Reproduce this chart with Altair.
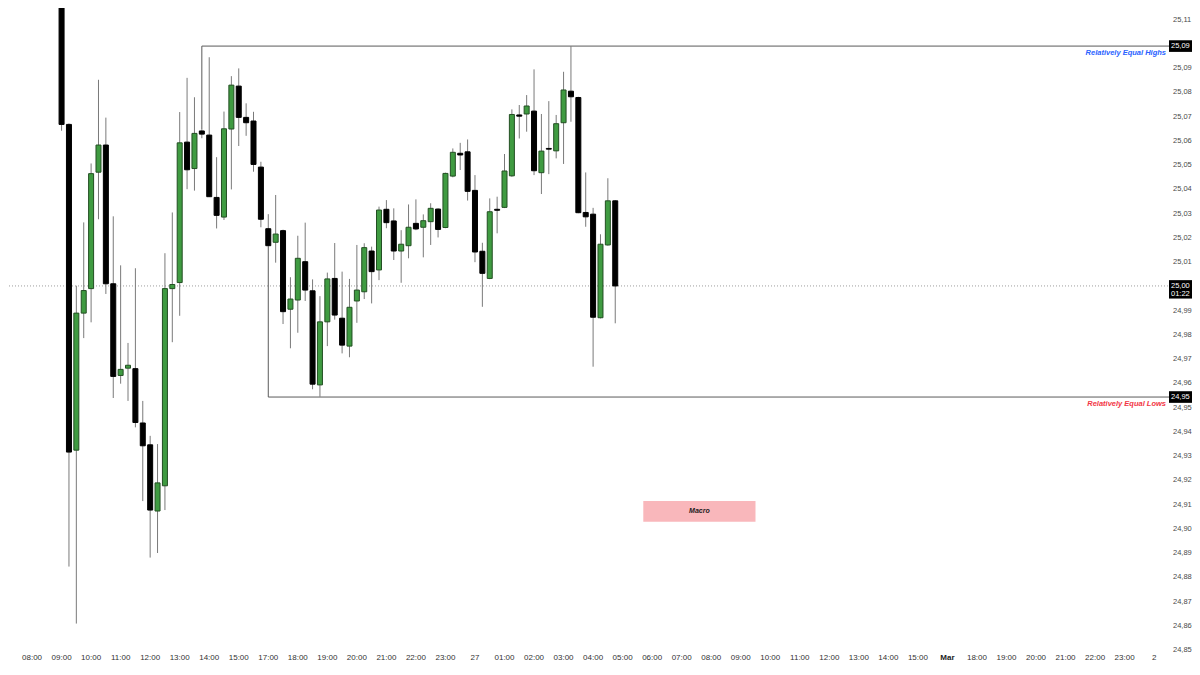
import altair as alt
import pandas as pd

# ---- 15-minute candles (bar index: 0 = 07:00 on the 26th, 4 bars per hour) ----
bars = list(range(8, 84))
opens = [25130.0, 25066.8, 24932.5, 24989.0, 24999.1, 25047.1, 25058.3, 25001.1, 24963.3, 24966.3,
         24966.1, 24943.7, 24934.7, 24907.4, 24917.8, 24999.1, 25001.6, 25059.5, 25048.6, 25064.1,
         25062.4, 25036.7, 25028.6, 25064.9, 25082.6, 25069.7, 25068.2, 25049.2, 25023.8, 25018.2,
         25023.0, 24990.6, 24994.4, 25010.2, 24998.2, 24959.4, 24985.4, 25003.3, 24986.9, 24975.4,
         24994.0, 24997.8, 25014.6, 25006.8, 25031.8, 25027.0, 25014.6, 25016.8, 25026.0, 25024.4,
         25026.7, 25031.9, 25024.3, 25045.5, 25054.9, 25055.5, 25039.6, 25014.5, 25003.3, 25031.8,
         25032.6, 25045.6, 25070.7, 25071.1, 25072.3, 25046.9, 25056.9, 25055.9, 25067.5, 25080.5,
         25077.9, 25030.5, 25029.8, 24987.1, 25017.1, 25035.3]
highs = [25138.0, 25067.2, 25000.3, 25026.4, 25050.7, 25085.2, 25069.6, 25028.9, 25008.7, 24976.7,
         25007.5, 24952.8, 24938.4, 24935.0, 25013.7, 25030.5, 25071.9, 25086.0, 25078.0, 25064.8,
         25094.5, 25053.3, 25072.1, 25086.7, 25089.9, 25075.5, 25072.0, 25051.4, 25029.8, 25037.7,
         25023.4, 25003.8, 25020.9, 25026.3, 25002.9, 24996.0, 25005.7, 25017.9, 25006.1, 25003.1,
         25017.1, 25017.8, 25016.4, 25032.9, 25035.6, 25032.2, 25023.2, 25033.8, 25035.9, 25029.7,
         25034.3, 25032.2, 25046.9, 25056.9, 25059.2, 25060.6, 25045.9, 25018.0, 25036.3, 25037.0,
         25054.6, 25073.0, 25074.8, 25078.9, 25089.5, 25071.1, 25076.4, 25070.7, 25088.5, 25099.1,
         25078.2, 25047.0, 25032.4, 25021.5, 25044.6, 25035.6]
lows = [25064.2, 24884.5, 24861.0, 24978.7, 24985.2, 25027.7, 24996.9, 24954.0, 24959.9, 24952.8,
        24941.9, 24911.5, 24888.2, 24890.1, 24907.8, 24977.0, 24987.9, 25040.1, 25039.5, 25061.1,
        25036.9, 25023.9, 25027.4, 25040.0, 25057.9, 25062.1, 25047.3, 25024.4, 25016.6, 25009.8,
        24984.5, 24974.5, 24980.9, 24994.0, 24957.6, 24954.5, 24975.4, 24986.3, 24972.4, 24970.8,
        24985.0, 24994.8, 24993.0, 25002.6, 25024.0, 25010.9, 25001.5, 25011.6, 25023.2, 25012.0,
        25017.1, 25020.2, 25024.0, 25045.0, 25048.0, 25035.4, 25010.0, 24991.6, 25003.0, 25021.9,
        25032.3, 25045.2, 25061.0, 25063.8, 25045.9, 25038.1, 25046.3, 25052.8, 25050.5, 25067.9,
        25030.2, 25024.6, 24966.9, 24986.8, 25016.8, 24984.8]
closes = [25066.8, 24931.7, 24989.0, 24998.3, 25046.5, 25058.3, 25001.1, 24962.9, 24965.8, 24967.5,
          24943.9, 24934.3, 24907.8, 24919.0, 24999.1, 25000.8, 25059.2, 25048.1, 25063.1, 25062.8,
          25037.0, 25029.3, 25065.0, 25083.0, 25069.7, 25067.5, 25050.3, 25027.7, 25016.8, 25021.6,
          24989.6, 24994.8, 25011.6, 24998.5, 24959.7, 24985.4, 25003.1, 24988.2, 24975.8, 24991.4,
          24998.5, 25016.0, 25006.1, 25031.5, 25026.3, 25014.6, 25017.4, 25024.4, 25023.7, 25027.1,
          25032.2, 25023.5, 25046.6, 25055.3, 25054.2, 25039.2, 25014.2, 25005.4, 25030.8, 25031.4,
          25047.6, 25070.9, 25070.2, 25074.4, 25047.7, 25055.8, 25056.6, 25067.1, 25081.0, 25078.2,
          25030.4, 25028.7, 24987.3, 25017.4, 25035.3, 25000.2]

# ---- axes ----
price_ticks = list(range(24850, 25111, 10))
time_labels = ["08:00", "09:00", "10:00", "11:00", "12:00", "13:00", "14:00", "15:00",
               "17:00", "18:00", "19:00", "20:00", "21:00", "22:00", "23:00", "27",
               "01:00", "02:00", "03:00", "04:00", "05:00", "06:00", "07:00", "08:00",
               "09:00", "10:00", "11:00", "12:00", "13:00", "14:00", "15:00", "Mar",
               "18:00", "19:00", "20:00", "21:00", "22:00", "23:00", "2"]
time_ticks = [4 * (i + 1) for i in range(len(time_labels))]
bold_labels = ["Mar"]

# ---- annotations ----
level_names = ["Relatively Equal Highs", "Relatively Equal Lows"]
level_prices = [25099.1, 24954.4]
level_start_bars = [27, 36]
level_anchor_prices = [25064.8, 25016.6]
level_colors = ["#2962ff", "#f23645"]

current_price = 25000.2
countdown = "01:22"
tag_prices = [25099.1, 25000.2, 24954.4]

macro_label = "Macro"
macro_bars = [86.8, 102.0]
macro_prices = [24903.0, 24911.5]

# ---- frames ----
candles = pd.DataFrame({"bar": bars, "open": opens, "high": highs, "low": lows, "close": closes})
candles["dir"] = ["up" if c >= o else "down" for o, c in zip(opens, closes)]

# the price scale is cut at the window edge: only the first five characters show
yticks = pd.DataFrame({"v": price_ticks, "text": [f"{v:,}"[:5] for v in price_ticks]})
xticks = pd.DataFrame({"b": time_ticks, "text": time_labels,
                       "bold": [t in bold_labels for t in time_labels]})

levels = pd.DataFrame({"name": level_names, "p": level_prices, "start": level_start_bars,
                       "anchor": level_anchor_prices, "col": level_colors})
tags = pd.DataFrame({"p": tag_prices})
tags["text"] = [f"{p:,.0f}"[:5] for p in tag_prices]
tags["hi"] = tags["p"] + 2.4
tags["lo"] = [p - (5.2 if p == current_price else 2.4) for p in tag_prices]
macro = pd.DataFrame({"x1": [macro_bars[0]], "x2": [macro_bars[1]],
                      "y1": [macro_prices[0]], "y2": [macro_prices[1]],
                      "xm": [sum(macro_bars) / 2], "ym": [sum(macro_prices) / 2],
                      "text": [macro_label]})
cur = pd.DataFrame({"p": [current_price], "cd": [countdown]})

FONT = "Liberation Sans"
W, H = 1160, 642
XS = alt.Scale(domain=[1.42, 157.2], nice=False, zero=False)
YS = alt.Scale(domain=[24850.1, 25114.8], nice=False, zero=False)


def X(f):
    return alt.X(f, scale=XS, axis=None)


def Y(f):
    return alt.Y(f, scale=YS, axis=None)


cur_line = alt.Chart(cur).mark_rule(color="#9e9e9e", strokeDash=[1, 2], strokeWidth=1).encode(y=Y("p:Q"))

level_lines = alt.Chart(levels).mark_rule(color="#5a5a5a", strokeWidth=1).encode(
    x=X("start:Q"), x2=alt.value(W + 1), y=Y("p:Q"))
level_anchor = alt.Chart(levels).mark_rule(color="#5a5a5a", strokeWidth=1).encode(
    x=X("start:Q"), y=Y("p:Q"), y2="anchor:Q")

wicks = alt.Chart(candles).mark_rule(color="#7a7a7a", strokeWidth=1, clip=True).encode(
    x=X("bar:Q"), y=Y("low:Q"), y2="high:Q")

bodies = alt.Chart(candles).mark_bar(size=5, strokeWidth=1, clip=True).encode(
    x=X("bar:Q"),
    y=Y("open:Q"),
    y2="close:Q",
    fill=alt.Fill("dir:N", scale=alt.Scale(domain=["up", "down"], range=["#3f9b41", "#000000"]), legend=None),
    stroke=alt.Stroke("dir:N", scale=alt.Scale(domain=["up", "down"], range=["#234f23", "#000000"]), legend=None),
)

macro_rect = alt.Chart(macro).mark_rect(color="#f9b7bb").encode(
    x=X("x1:Q"), x2="x2:Q", y=Y("y1:Q"), y2="y2:Q")
macro_text = alt.Chart(macro).mark_text(font=FONT, fontSize=7, fontStyle="italic", fontWeight="bold",
                                        color="#1a1a1a").encode(x=X("xm:Q"), y=Y("ym:Q"), text="text:N")

level_text = alt.Chart(levels).mark_text(font=FONT, fontSize=7.5, fontStyle="italic", fontWeight="bold",
                                         align="right", dy=6.5).encode(
    x=alt.value(W - 2), y=Y("p:Q"), text="name:N", color=alt.Color("col:N", scale=None))

# price scale labels (right) and time scale labels (bottom)
y_labels = alt.Chart(yticks).mark_text(font=FONT, fontSize=7.5, color="#4a4a4a", align="left",
                                       baseline="middle").encode(
    x=alt.value(W + 5), y=Y("v:Q"), text="text:N")
x_labels = alt.Chart(xticks).transform_filter("!datum.bold").mark_text(
    font=FONT, fontSize=8, color="#333333", baseline="middle").encode(
    x=X("b:Q"), y=alt.value(H + 8), text="text:N")
x_labels_bold = alt.Chart(xticks).transform_filter("datum.bold").mark_text(
    font=FONT, fontSize=8, color="#222222", fontWeight="bold", baseline="middle").encode(
    x=X("b:Q"), y=alt.value(H + 8), text="text:N")

tag_rect = alt.Chart(tags).mark_rect(color="#000000").encode(
    x=alt.value(W + 1), x2=alt.value(W + 24), y=Y("lo:Q"), y2="hi:Q")
tag_text = alt.Chart(tags).mark_text(font=FONT, fontSize=7.5, color="#ffffff", align="left").encode(
    x=alt.value(W + 3), y=Y("p:Q"), text="text:N")
cd_text = alt.Chart(cur).mark_text(font=FONT, fontSize=7.5, color="#ffffff", align="left", dy=8.5).encode(
    x=alt.value(W + 3), y=Y("p:Q"), text="cd:N")

chart = alt.layer(cur_line, level_lines, level_anchor, wicks, bodies, macro_rect, macro_text,
                  level_text, y_labels, x_labels, x_labels_bold, tag_rect, tag_text, cd_text).properties(
    width=W, height=H,
    padding={"left": 0, "top": 0, "right": 24, "bottom": 12},
    autosize=alt.AutoSizeParams(type="none"),
    background="#ffffff",
).configure_view(stroke=None)

chart.save("out.html", embed_options={"renderer": "svg", "actions": False})
